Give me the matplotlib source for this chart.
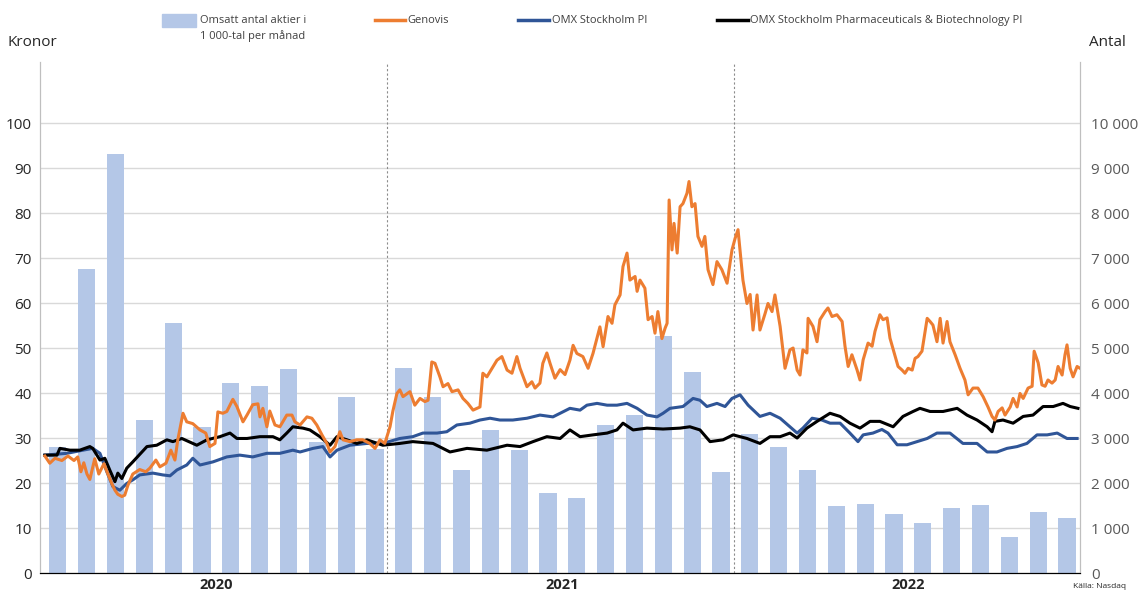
import numpy as np
import matplotlib
matplotlib.use("Agg")
import matplotlib.pyplot as plt
from matplotlib.ticker import FuncFormatter
from matplotlib.patches import Rectangle
from matplotlib.lines import Line2D

plt.rcParams['font.family'] = ['Open Sans', 'DejaVu Sans']

# Omsatt antal aktier (1 000-tal) per månad, jan 2020 - dec 2022
volym = [2800, 6750, 9310, 3400, 5560, 3240, 4230, 4160, 4530, 2920, 3910, 2750,
         4550, 3920, 2290, 3170, 2730, 1770, 1670, 3290, 3510, 5270, 4470, 2240,
         3090, 2790, 2300, 1490, 1530, 1310, 1110, 1440, 1510, 810, 1360, 1230]
manad = np.arange(len(volym))  # 0 = jan 2020

# Kurser: tid i månader (0 = mitten av jan 2020), värde i kronor
gen_t = [-0.45, -0.28, -0.10, 0.14, 0.35, 0.56, 0.69, 0.80, 0.90, 1.01, 1.11, 1.28, 1.42, 1.60, 1.73,
         1.87, 1.98, 2.08, 2.22, 2.32, 2.43, 2.60, 2.84, 3.05, 3.19, 3.40, 3.54, 3.75, 3.92, 4.06,
         4.16, 4.34, 4.47, 4.68, 4.93, 5.13, 5.27, 5.45, 5.55, 5.72, 5.86, 6.07, 6.21, 6.42, 6.56,
         6.76, 6.94, 7.01, 7.11, 7.25, 7.35, 7.53, 7.70, 7.94, 8.12, 8.22, 8.40, 8.64, 8.81, 8.98,
         9.16, 9.33, 9.44, 9.61, 9.78, 9.89, 10.13, 10.37, 10.58, 10.82, 11.00, 11.17, 11.34, 11.52,
         11.62, 11.76, 11.86, 11.97, 12.21, 12.38, 12.56, 12.73, 12.84, 12.97, 13.08, 13.25, 13.36,
         13.53, 13.67, 13.88, 14.05, 14.22, 14.40, 14.54, 14.64, 14.74, 14.88, 15.06, 15.23, 15.40,
         15.58, 15.75, 15.92, 16.03, 16.27, 16.44, 16.55, 16.72, 16.82, 16.96, 17.07, 17.24, 17.42,
         17.59, 17.76, 17.87, 18.00, 18.21, 18.39, 18.56, 18.80, 18.91, 19.08, 19.22, 19.32, 19.50,
         19.60, 19.74, 19.84, 20.02, 20.09, 20.19, 20.36, 20.47, 20.61, 20.71, 20.81, 20.95, 21.06,
         21.13, 21.20, 21.30, 21.37, 21.48, 21.58, 21.68, 21.82, 21.89, 21.99, 22.10, 22.20, 22.34,
         22.44, 22.55, 22.72, 22.86, 23.03, 23.21, 23.38, 23.49, 23.59, 23.76, 23.90, 24.01, 24.11,
         24.25, 24.35, 24.53, 24.63, 24.77, 24.87, 25.05, 25.22, 25.39, 25.50, 25.64, 25.74, 25.84,
         25.98, 26.02, 26.19, 26.33, 26.43, 26.61, 26.71, 26.85, 27.02, 27.20, 27.30, 27.41, 27.54,
         27.72, 27.82, 27.93, 28.10, 28.24, 28.34, 28.51, 28.62, 28.76, 28.86, 29.04, 29.14, 29.28,
         29.38, 29.49, 29.63, 29.73, 29.83, 29.97, 30.15, 30.25, 30.35, 30.49, 30.60, 30.70, 30.84,
         30.94, 31.12, 31.29, 31.46, 31.57, 31.74, 31.91, 32.09, 32.26, 32.40, 32.50, 32.61, 32.75,
         32.85, 33.03, 33.13, 33.27, 33.37, 33.48, 33.65, 33.79, 33.86, 34.00, 34.13, 34.24, 34.34,
         34.48, 34.59, 34.69, 34.83, 34.93, 35.00, 35.11, 35.21, 35.35, 35.45]
gen_v = [26.0, 24.4, 25.5, 25.0, 26.0, 25.0, 25.8, 22.5, 24.5, 22.0, 20.8, 25.4, 22.0, 24.3, 22.1,
         19.9, 18.4, 17.5, 17.0, 17.3, 19.5, 22.0, 23.0, 22.5, 23.3, 25.1, 23.6, 24.4, 27.3, 25.1,
         29.6, 35.5, 33.6, 33.2, 31.8, 31.1, 28.1, 28.8, 35.8, 35.5, 35.9, 38.6, 37.0, 33.6, 35.1,
         37.4, 37.6, 34.7, 36.6, 32.5, 36.0, 32.9, 32.5, 35.1, 35.1, 33.6, 32.9, 34.7, 34.4, 32.9,
         30.7, 28.8, 26.9, 28.1, 31.4, 29.6, 29.2, 29.6, 29.6, 28.8, 27.7, 29.6, 28.8, 32.5,
         36.0, 39.9, 40.7, 39.2, 40.3, 37.3, 38.8, 38.1, 38.4, 46.9, 46.6, 43.6, 41.4,
         42.1, 40.3, 40.7, 38.8, 37.7, 36.2, 36.6, 36.9, 44.4, 43.6, 45.5, 47.3, 48.1,
         45.1, 44.4, 48.1, 45.5, 41.4, 42.5, 41.1, 42.2, 46.6, 48.9, 46.6, 43.3, 45.2,
         44.1, 47.3, 50.6, 48.8, 48.1, 45.5, 48.8, 54.7, 50.3, 57.0, 55.5, 59.6, 61.8,
         68.1, 71.1, 65.1, 65.9, 62.6, 65.1, 63.3, 56.3, 57.0, 53.3, 58.1, 52.1, 54.4,
         55.5, 82.9, 71.8, 77.7, 71.1, 81.4, 82.1, 84.4, 87.0, 81.4, 82.1, 74.8, 72.6,
         74.8, 67.4, 64.1, 69.2, 67.4, 64.4, 71.8, 74.4, 76.3, 65.1, 59.9, 61.9, 54.0,
         61.8, 54.0, 57.7, 59.9, 58.1, 61.8, 54.8, 45.5, 49.6, 50.0, 45.1, 44.0, 49.6,
         48.9, 56.6, 54.8, 51.4, 56.3, 58.1, 58.9, 57.0, 57.4, 55.9, 50.4, 45.9, 48.5,
         45.1, 42.9, 47.4, 51.1, 50.4, 53.7, 57.4, 56.3, 56.7, 52.2, 48.1, 45.9, 45.1,
         44.4, 45.5, 45.1, 47.7, 48.1, 49.3, 56.6, 55.9, 55.1, 51.4, 56.6, 51.1, 55.9,
         51.4, 48.5, 45.5, 42.9, 39.6, 41.1, 41.1, 39.2, 36.9, 34.8, 34.0, 35.9, 36.7,
         35.1, 36.9, 38.8, 36.9, 39.9, 38.8, 41.1, 41.5, 49.3, 46.7, 41.8, 41.5, 42.9,
         42.2, 42.9, 45.9, 44.0, 48.5, 50.7, 45.5, 43.6, 45.9, 45.5]

omx_t = [-0.45, 0.31, 0.87, 1.21, 1.46, 1.70, 1.91, 2.15, 2.39, 2.60, 2.84, 3.30, 3.64, 3.89, 4.13,
         4.47, 4.68, 4.93, 5.38, 5.86, 6.31, 6.76, 7.25, 7.70, 8.15, 8.40, 8.85, 9.19, 9.44, 9.68,
         10.13, 10.72, 11.27, 11.86, 12.31, 12.66, 13.15, 13.49, 13.84, 14.29, 14.64, 14.99, 15.33,
         15.78, 16.27, 16.72, 17.17, 17.42, 17.76, 18.11, 18.35, 18.70, 19.05, 19.39, 19.74, 20.09,
         20.43, 20.78, 20.99, 21.23, 21.68, 22.03, 22.27, 22.51, 22.86, 23.14, 23.38, 23.66, 23.94,
         24.35, 24.70, 25.05, 25.39, 25.64, 25.84, 26.16, 26.50, 26.78, 27.13, 27.47, 27.75, 27.93,
         28.27, 28.58, 28.79, 29.11, 29.45, 29.80, 30.15, 30.49, 30.94, 31.39, 31.88, 32.23, 32.57,
         32.92, 33.27, 33.61, 33.96, 34.31, 34.66, 35.00, 35.35]
omx_v = [26.2, 26.6, 27.3, 27.7, 26.6, 22.5, 19.2, 18.4, 19.9, 20.7, 21.8, 22.2, 21.8, 21.6, 22.9,
         24.0, 25.5, 24.0, 24.7, 25.8, 26.2, 25.8, 26.6, 26.6, 27.3, 26.9, 27.7, 28.1, 25.8, 27.3,
         28.4, 28.8, 28.8, 29.9, 30.3, 31.1, 31.1, 31.4, 32.9, 33.3, 34.0, 34.4, 34.0,
         34.0, 34.4, 35.1, 34.7, 35.5, 36.6, 36.2, 37.3, 37.7, 37.3, 37.3, 37.7, 36.6,
         35.1, 34.7, 35.5, 36.6, 37.0, 38.8, 38.4, 37.0, 37.7, 37.0, 38.8, 39.6, 37.3,
         34.8, 35.5, 34.4, 32.5, 31.1, 32.2, 34.4, 34.0, 33.3, 33.3, 31.1, 29.2, 30.7,
         31.1, 31.9, 31.1, 28.5, 28.5, 29.2, 29.9, 31.1, 31.1, 28.8, 28.8, 26.9, 26.9,
         27.7, 28.1, 28.8, 30.7, 30.7, 31.1, 29.9, 29.9]

pharma_t = [-0.45, -0.03, 0.07, 0.42, 0.76, 1.11, 1.21, 1.46, 1.63, 1.80, 1.98, 2.08, 2.22, 2.39, 2.60,
            3.09, 3.43, 3.78, 3.99, 4.30, 4.82, 5.17, 5.62, 5.97, 6.21, 6.56, 7.01, 7.46, 7.70, 7.94,
            8.15, 8.50, 8.74, 9.09, 9.44, 9.68, 10.03, 10.37, 10.72, 11.27, 11.86, 12.31, 13.01, 13.60,
            14.19, 14.88, 15.58, 16.03, 16.48, 16.96, 17.42, 17.76, 18.11, 18.56, 19.05, 19.39, 19.60,
            19.95, 20.43, 20.99, 21.58, 21.92, 22.27, 22.62, 23.07, 23.42, 23.90, 24.35, 24.70, 25.05,
            25.39, 25.64, 25.98, 26.33, 26.78, 27.13, 27.47, 27.82, 28.17, 28.51, 28.97, 29.31, 29.66,
            29.90, 30.25, 30.70, 31.19, 31.53, 31.88, 32.23, 32.40, 32.50, 32.78, 33.13, 33.48, 33.82,
            34.17, 34.52, 34.86, 35.11, 35.38]
pharma_v = [26.2, 26.2, 27.7, 27.3, 27.3, 28.1, 27.7, 25.1, 25.5, 22.9, 20.3, 22.2, 21.0, 23.3, 24.7,
            28.1, 28.4, 29.6, 29.2, 29.9, 28.4, 29.6, 30.3, 31.1, 29.9, 29.9, 30.3, 30.3, 29.6, 31.1,
            32.5, 32.2, 31.8, 30.3, 28.4, 30.3, 29.6, 28.8, 29.6, 28.4, 28.8, 29.2, 28.8, 26.9,
            27.7, 27.3, 28.4, 28.1, 29.2, 30.3, 29.9, 31.8, 30.3, 30.7, 31.1, 31.8, 33.3,
            31.8, 32.2, 32.0, 32.2, 32.5, 31.8, 29.2, 29.6, 30.7, 29.9, 28.8, 30.3, 30.3,
            31.1, 30.0, 32.2, 33.7, 35.5, 34.8, 33.3, 32.2, 33.7, 33.7, 32.5, 34.8, 35.9,
            36.6, 35.9, 35.9, 36.6, 35.1, 34.0, 32.5, 31.4, 33.7, 34.0, 33.3, 34.8, 35.1,
            37.0, 37.0, 37.7, 37.0, 36.6]

ar = ['2020', '2021', '2022']

c_bar = '#B4C7E7'
c_gen = '#ED7D31'
c_omx = '#2F5597'
c_pha = '#000000'
grid_c = '#D9D9D9'
txt_c = '#404040'

fig = plt.figure(figsize=(11.42, 5.93), dpi=100)
ax = fig.add_axes([0.035, 0.0337, 0.9107, 0.8617])
ax_r = ax.twinx()

# staplar på högeraxeln (bakom)
ax_r.bar(manad, volym, width=0.6, color=c_bar, zorder=2)
ax_r.set_ylim(0, 11356)
ax_r.set_yticks(np.arange(0, 10001, 1000))
ax_r.yaxis.set_major_formatter(FuncFormatter(lambda v, _: f'{int(v):,}'.replace(',', ' ')))
ax_r.grid(axis='y', color=grid_c, lw=1, zorder=0)
ax_r.set_axisbelow(True)

# linjer på vänsteraxeln (ovanpå)
ax.set_zorder(ax_r.get_zorder() + 1)
ax.patch.set_visible(False)
ax.plot(omx_t, omx_v, color=c_omx, lw=2.2, zorder=3)
ax.plot(pharma_t, pharma_v, color=c_pha, lw=2.2, zorder=4)
ax.plot(gen_t, gen_v, color=c_gen, lw=2.2, zorder=5)
ax.set_ylim(0, 113.56)
ax.set_yticks(np.arange(0, 101, 10))
ax.set_xlim(-0.62, 35.45)

for xd in [11.4, 23.45]:
    ax.axvline(xd, color='#8C8C8C', lw=0.8, ls=(0, (2, 2)), zorder=1)

ax.set_xticks([])
for i, a in enumerate(ar):
    ax.text(5.5 + 12 * i, -1.2, a, ha='center', va='top', fontsize=10.5,
            fontweight='bold', color='#262626')

for a in (ax, ax_r):
    a.spines['top'].set_visible(False)
    a.spines['left'].set_color('#BFBFBF')
    a.spines['right'].set_color('#BFBFBF')
    a.spines['bottom'].set_color('#000000')
    a.tick_params(axis='y', length=0, labelsize=11)
ax.tick_params(axis='y', colors='#262626', pad=6)
ax_r.tick_params(axis='y', colors='#595959', pad=8)

fig.text(0.007, 0.929, 'Kronor', fontsize=11, color='#262626', va='center')
fig.text(0.954, 0.929, 'Antal', fontsize=11, color='#262626', va='center')
fig.text(0.986, 0.005, 'Källa: Nasdaq', fontsize=6, color='#262626', ha='right', va='bottom')

# förklaring
leg_y = 0.966
fig.patches.append(Rectangle((0.142, leg_y - 0.011), 0.030, 0.022, transform=fig.transFigure,
                             color=c_bar))
fig.text(0.175, leg_y, 'Omsatt antal aktier i', fontsize=8, color=txt_c, va='center')
fig.text(0.175, leg_y - 0.026, '1 000-tal per månad', fontsize=8, color=txt_c, va='center')
for x0, c, lab in [(0.328, c_gen, 'Genovis'), (0.454, c_omx, 'OMX Stockholm PI'),
                   (0.628, c_pha, 'OMX Stockholm Pharmaceuticals & Biotechnology PI')]:
    fig.lines.append(Line2D([x0, x0 + 0.027], [leg_y, leg_y], transform=fig.transFigure,
                            color=c, lw=2.5))
    fig.text(x0 + 0.029, leg_y, lab, fontsize=8, color=txt_c, va='center')

fig.savefig('out.png', dpi=100)
